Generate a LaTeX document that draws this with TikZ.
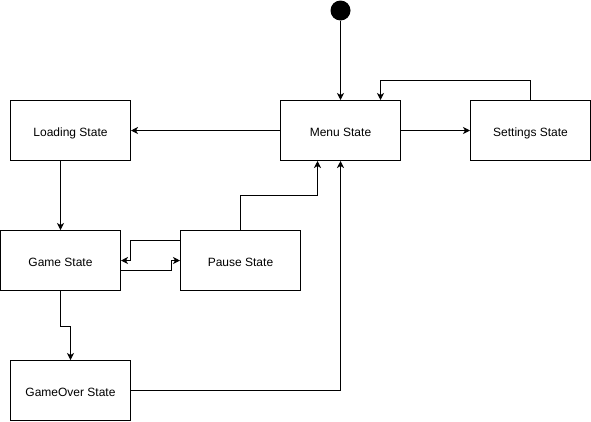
\documentclass[tikz,border=0pt]{standalone}
\usepackage{fontspec}
\setmainfont{Liberation Sans}
\usetikzlibrary{arrows.meta,calc}
\begin{document}
\begin{tikzpicture}[x=1pt,y=-1pt,
  state/.style={draw, line width=1pt, minimum width=120pt, minimum height=60pt, inner sep=0pt, text height=12pt, text depth=0pt, font=\fontsize{12}{14}\selectfont},
  conn/.style={line width=1pt, -{Stealth[length=7pt,width=7pt,inset=2pt]}}]
\useasboundingbox (0,0) rectangle (591,421);
\node[circle, fill=black, minimum size=20pt, inner sep=0pt] (dot) at (340.5,10.5) {};
\node[state] (menu) at (340.5,130.5) {Menu State};
\node[state] (loading) at (70.5,130.5) {Loading State};
\node[state] (settings) at (530.5,130.5) {Settings State};
\node[state] (game) at (60.5,260.5) {Game State};
\node[state] (pause) at (240.5,260.5) {Pause State};
\node[state] (gameover) at (70.5,390.5) {GameOver State};

\draw[conn] (dot) -- (menu);
\draw[conn] (menu) -- (loading);
\draw[conn] (menu) -- (settings);
\draw[conn] (settings.north) -- ++(0,-20) -| ($(menu.north)+(40,0)$);
\draw[conn] ($(loading.south)+(-10,0)$) -- (game.north);
\draw[conn] ($(game.east)+(0,10)$) -- ++(50,0) |- (pause.west);
\draw[conn] ($(pause.west)+(0,-20)$) -- ++(-50,0) |- (game.east);
\draw[conn] (pause.north) -- ++(0,-35) -| ($(menu.south)+(-23,0)$);
\draw[conn] (game.south) -- ++(0,35) -| (gameover.north);
\draw[conn] (gameover.east) -| (menu.south);
\end{tikzpicture}
\end{document}
